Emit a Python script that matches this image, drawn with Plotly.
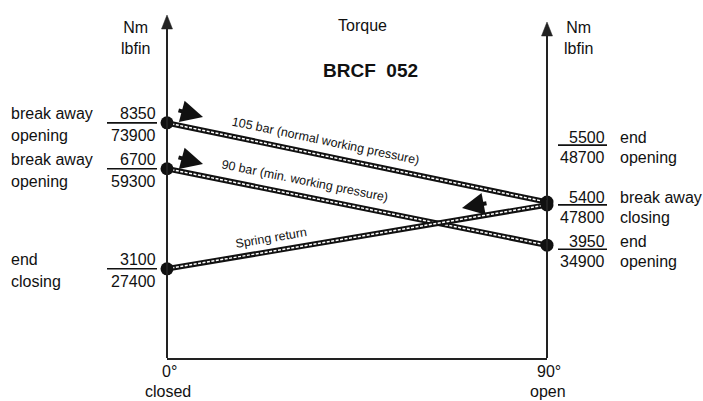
import math
import plotly.graph_objects as go

# ---------------- data ----------------
angles = [0, 90]                       # degrees (closed -> open)
series_names = ["105 bar (normal working pressure)",
                "90 bar (min. working pressure)",
                "Spring return"]
torque_105 = [8350, 5500]              # Nm
torque_90 = [6700, 3950]               # Nm
torque_spring = [3100, 5400]           # Nm

left_nm = [8350, 6700, 3100]
left_lbfin = [73900, 59300, 27400]
left_top = ["break away", "break away", "end"]
left_bot = ["opening", "opening", "closing"]

right_nm = [5500, 5400, 3950]
right_lbfin = [48700, 47800, 34900]
right_top = ["end", "break away", "end"]
right_bot = ["opening", "closing", "opening"]

x_tick_vals = [0, 90]
x_tick_top = ["0°", "90°"]
x_tick_bot = ["closed", "open"]

# ---------------- layout geometry ----------------
W, H = 703, 401
L, R, T, B = 167, 156, 13, 43
PW, PH = W - L - R, H - T - B
Y0PX = 355.0          # pixel of 0 Nm
SCALE = 0.0278        # px per Nm
YMIN = -(H - B - Y0PX) / SCALE
YMAX = (Y0PX - T) / SCALE

FONT = "Liberation Sans, Arial, sans-serif"


def px_x(p):
    return (p - L) / PW


def px_y(p):
    return (H - B - p) / PH


def val_px(v):
    return Y0PX - SCALE * v


fig = go.Figure()

# rope-style lines
for name, vals in zip(series_names, [torque_105, torque_90, torque_spring]):
    fig.add_trace(go.Scatter(x=angles, y=vals, mode="lines",
                             line=dict(color="#111", width=5.5), cliponaxis=False,
                             hoverinfo="skip", showlegend=False))
    fig.add_trace(go.Scatter(x=angles, y=vals, mode="lines", cliponaxis=False,
                             line=dict(color="white", width=1.5, dash="3px,1.5px"),
                             name=name, showlegend=False))

# dots
dot_x = [angles[0]] * 3 + [angles[1]] * 3
dot_y = [torque_105[0], torque_90[0], torque_spring[0],
         torque_105[1], torque_90[1], torque_spring[1]]
fig.add_trace(go.Scatter(x=dot_x, y=dot_y, mode="markers", cliponaxis=False,
                         marker=dict(color="#111", size=13),
                         showlegend=False, hoverinfo="skip"))

shapes = []
ann = []

# axis lines + arrow heads (paper coordinates so they are not clipped)
for axpx, tip in [(167, 15), (547, 22)]:
    shapes.append(dict(type="line", xref="paper", yref="paper",
                       x0=px_x(axpx), x1=px_x(axpx), y0=0, y1=px_y(tip + 10),
                       line=dict(color="#222", width=2)))
    shapes.append(dict(type="path", xref="paper", yref="paper",
                       path=f"M {px_x(axpx)} {px_y(tip)} "
                            f"L {px_x(axpx - 5.5)} {px_y(tip + 14)} "
                            f"L {px_x(axpx + 5.5)} {px_y(tip + 14)} Z",
                       fillcolor="#222", line=dict(color="#222", width=0.5)))

# left value labels
for v, lb, t1, t2 in zip(left_nm, left_lbfin, left_top, left_bot):
    shapes.append(dict(type="line", xref="paper", yref="y",
                       x0=px_x(107), x1=px_x(157), y0=v, y1=v,
                       line=dict(color="#111", width=1.6)))
    ann.append(dict(x=px_x(158), y=v, xref="paper", yref="y", text=f"{v}",
                    xanchor="right", yanchor="bottom", yshift=-1, showarrow=False))
    ann.append(dict(x=px_x(158), y=v, xref="paper", yref="y", text=f"{lb}",
                    xanchor="right", yanchor="top", yshift=-2, showarrow=False))
    ann.append(dict(x=px_x(9), y=v, xref="paper", yref="y", text=t1,
                    xanchor="left", yanchor="bottom", yshift=-1, showarrow=False))
    ann.append(dict(x=px_x(9), y=v, xref="paper", yref="y", text=t2,
                    xanchor="left", yanchor="top", yshift=-2, showarrow=False))

# right value labels (first one is lifted with a leader line)
lifts = [57, 0, -4]
for v, lb, t1, t2, lift in zip(right_nm, right_lbfin, right_top, right_bot, lifts):
    shapes.append(dict(type="line", xref="paper", yref="y",
                       ysizemode="pixel", yanchor=v,
                       x0=px_x(558), x1=px_x(607), y0=lift, y1=lift,
                       line=dict(color="#111", width=1.6)))
    ann.append(dict(x=px_x(607), y=v, xref="paper", yref="y", text=f"{v}",
                    xanchor="right", yanchor="bottom", yshift=lift - 3, showarrow=False))
    ann.append(dict(x=px_x(607), y=v, xref="paper", yref="y", text=f"{lb}",
                    xanchor="right", yanchor="top", yshift=lift - 2, showarrow=False))
    ann.append(dict(x=px_x(618), y=v, xref="paper", yref="y", text=t1,
                    xanchor="left", yanchor="bottom", yshift=lift - 3, showarrow=False))
    ann.append(dict(x=px_x(618), y=v, xref="paper", yref="y", text=t2,
                    xanchor="left", yanchor="top", yshift=lift - 2, showarrow=False))

# leader line from right dot to lifted label
shapes.append(dict(type="path", xref="x", yref="y",
                   xsizemode="pixel", ysizemode="pixel",
                   xanchor=90, yanchor=torque_105[1],
                   path="M 0 2 L 11 50", line=dict(color="#111", width=1.6)))

# headings
for cx in (135, 578):
    ann.append(dict(x=px_x(cx), y=px_y(17), xref="paper", yref="paper",
                    text="Nm<br>lbfin", showarrow=False, xanchor="center",
                    yanchor="top"))
ann.append(dict(x=px_x(362), y=px_y(25), xref="paper", yref="paper",
                text="Torque", showarrow=False, xanchor="center", yanchor="middle"))
ann.append(dict(x=px_x(370), y=px_y(70), xref="paper", yref="paper",
                text="<b>BRCF\u00a0\u00a0052</b>", showarrow=False,
                xanchor="center", yanchor="middle",
                font=dict(size=19, family=FONT, color="#111")))

# bottom ticks
for xv, t1, t2 in zip(x_tick_vals, x_tick_top, x_tick_bot):
    ann.append(dict(x=xv, y=0, xref="x", yref="paper", text=t1, xanchor="center",
                    showarrow=False, yanchor="top", yshift=-3, xshift=2))
    ann.append(dict(x=xv, y=0, xref="x", yref="paper", text=t2, xanchor="center",
                    showarrow=False, yanchor="top", yshift=-23, xshift=1))

# series labels along the lines
label_pos = [(0.41, 14), (0.356, 14.5), (0.28, 13)]
for name, vals, (t, off) in zip(series_names,
                                [torque_105, torque_90, torque_spring], label_pos):
    p0, p1 = val_px(vals[0]), val_px(vals[1])
    ang = math.degrees(math.atan2(p1 - p0, PW))
    xv = angles[0] + (angles[1] - angles[0]) * t
    yv = vals[0] + (vals[1] - vals[0]) * t
    ann.append(dict(x=xv, y=yv, xref="x", yref="y", text=name, showarrow=False,
                    xanchor="center", yanchor="middle",
                    textangle=ang, yshift=off, xshift=off * math.sin(math.radians(ang)),
                    font=dict(size=12.5, family=FONT, color="#111")))

# direction arrows
arrow_defs = [  # head px, tail px
    ((203, 117), (177, 110)),
    ((203, 164), (177, 157)),
    ((462, 208), (488, 203)),
]
for (hx, hy), (tx, ty) in arrow_defs:
    ann.append(dict(x=px_x(hx), y=px_y(hy), xref="paper", yref="paper",
                    ax=tx - hx, ay=ty - hy, axref="pixel", ayref="pixel",
                    text="", showarrow=True, arrowhead=2, arrowsize=1.1,
                    arrowwidth=4, arrowcolor="#111"))

fig.update_layout(
    width=W, height=H,
    margin=dict(l=L, r=R, t=T, b=B, pad=0),
    paper_bgcolor="white", plot_bgcolor="white",
    font=dict(family=FONT, size=16, color="#111"),
    xaxis=dict(range=[0, 90], showgrid=False, zeroline=False,
               showticklabels=False, ticks="", showline=True,
               linecolor="#222", linewidth=2),
    yaxis=dict(range=[YMIN, YMAX], showgrid=False, zeroline=False,
               showticklabels=False, ticks="", showline=False),
    shapes=shapes, annotations=ann, showlegend=False,
)

fig.write_html("out.html", config={"displayModeBar": False},
               post_script="document.body.style.margin='0';document.body.style.overflow='hidden';")
